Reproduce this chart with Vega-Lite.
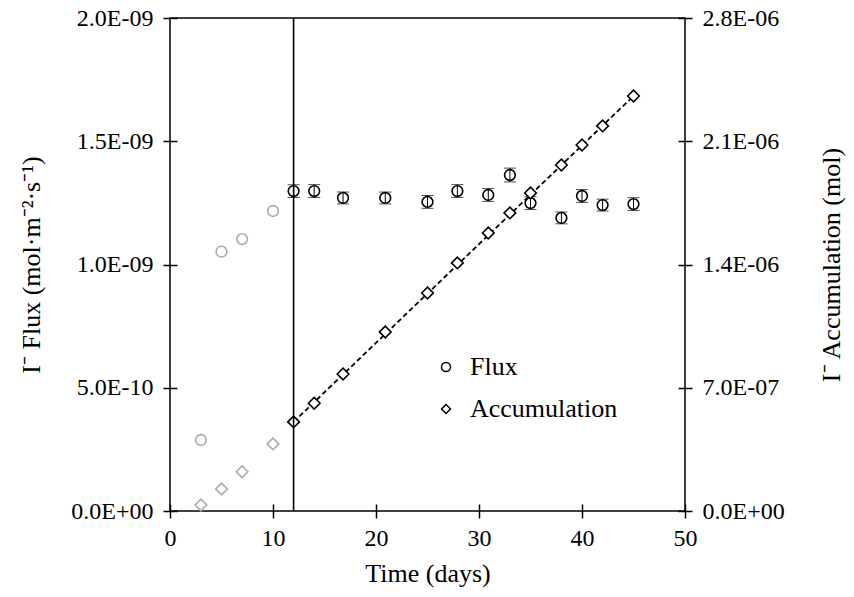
{
  "$schema": "https://vega.github.io/schema/vega-lite/v6.json",
  "width": 515,
  "height": 493,
  "autosize": {"type": "none"},
  "padding": {"left": 170, "top": 18, "right": 169, "bottom": 86},
  "background": "white",
  "config": {
    "view": {"stroke": "black", "strokeWidth": 1.5},
    "font": "Liberation Serif",
    "axis": {
      "labelFont": "Liberation Serif",
      "titleFont": "Liberation Serif",
      "labelFontSize": 24,
      "titleFontSize": 26,
      "titleFontWeight": "normal",
      "labelColor": "black",
      "titleColor": "black",
      "domain": false,
      "tickColor": "black",
      "tickWidth": 1.5,
      "tickSize": 14,
      "offset": -7,
      "labelFlush": false,
      "labelOverlap": false,
      "grid": false
    },
    "legend": {
      "labelFont": "Liberation Serif",
      "labelFontSize": 26,
      "labelColor": "black",
      "symbolStrokeColor": "black",
      "symbolStrokeWidth": 1.5,
      "symbolFillColor": "transparent",
      "symbolSize": 80,
      "labelOffset": 11,
      "rowPadding": 16
    }
  },
  "datasets": {
    "flux": [
      {"day": 3, "flux": 2.88e-10, "err": 0, "phase": "conditioning"},
      {"day": 5, "flux": 1.052e-9, "err": 0, "phase": "conditioning"},
      {"day": 7, "flux": 1.103e-9, "err": 0, "phase": "conditioning"},
      {"day": 10, "flux": 1.217e-9, "err": 0, "phase": "conditioning"},
      {"day": 12, "flux": 1.298e-9, "err": 2.6e-11, "phase": "steady"},
      {"day": 14, "flux": 1.298e-9, "err": 2.6e-11, "phase": "steady"},
      {"day": 16.8, "flux": 1.27e-9, "err": 2.4e-11, "phase": "steady"},
      {"day": 20.9, "flux": 1.27e-9, "err": 2.4e-11, "phase": "steady"},
      {"day": 25, "flux": 1.254e-9, "err": 2.6e-11, "phase": "steady"},
      {"day": 27.9, "flux": 1.298e-9, "err": 2.6e-11, "phase": "steady"},
      {"day": 30.9, "flux": 1.282e-9, "err": 2.6e-11, "phase": "steady"},
      {"day": 33, "flux": 1.363e-9, "err": 2.8e-11, "phase": "steady"},
      {"day": 35, "flux": 1.249e-9, "err": 2.6e-11, "phase": "steady"},
      {"day": 38, "flux": 1.189e-9, "err": 2.4e-11, "phase": "steady"},
      {"day": 40, "flux": 1.278e-9, "err": 2.6e-11, "phase": "steady"},
      {"day": 42, "flux": 1.241e-9, "err": 2.4e-11, "phase": "steady"},
      {"day": 45, "flux": 1.245e-9, "err": 2.6e-11, "phase": "steady"}
    ],
    "accumulation": [
      {"day": 3, "acc": 3.4e-8, "phase": "conditioning"},
      {"day": 5, "acc": 1.25e-7, "phase": "conditioning"},
      {"day": 7, "acc": 2.23e-7, "phase": "conditioning"},
      {"day": 10, "acc": 3.81e-7, "phase": "conditioning"},
      {"day": 12, "acc": 5.06e-7, "phase": "steady"},
      {"day": 14, "acc": 6.12e-7, "phase": "steady"},
      {"day": 16.8, "acc": 7.78e-7, "phase": "steady"},
      {"day": 20.9, "acc": 1.017e-6, "phase": "steady"},
      {"day": 25, "acc": 1.238e-6, "phase": "steady"},
      {"day": 27.9, "acc": 1.409e-6, "phase": "steady"},
      {"day": 30.9, "acc": 1.579e-6, "phase": "steady"},
      {"day": 33, "acc": 1.693e-6, "phase": "steady"},
      {"day": 35, "acc": 1.806e-6, "phase": "steady"},
      {"day": 38, "acc": 1.965e-6, "phase": "steady"},
      {"day": 40, "acc": 2.079e-6, "phase": "steady"},
      {"day": 42, "acc": 2.187e-6, "phase": "steady"},
      {"day": 45, "acc": 2.357e-6, "phase": "steady"}
    ],
    "fit": [
      {"day": 12, "acc": 5.06e-7},
      {"day": 45, "acc": 2.357e-6}
    ],
    "start": [{"day": 12}]
  },
  "layer": [
    {
      "layer": [
        {
          "data": {"name": "flux"},
          "transform": [{"filter": "datum.phase === 'steady'"}],
          "mark": {"type": "errorbar", "ticks": {"size": 12, "color": "black", "strokeWidth": 1.5}, "color": "black", "strokeWidth": 1.5},
          "encoding": {
            "x": {"field": "day", "type": "quantitative"},
            "y": {"field": "flux", "type": "quantitative"},
            "yError": {"field": "err"}
          }
        },
        {
          "data": {"name": "flux"},
          "transform": [{"calculate": "'Flux'", "as": "series"}],
          "mark": {"type": "point", "filled": false, "size": 115, "strokeWidth": 1.6, "opacity": 1},
          "encoding": {
            "x": {"field": "day", "type": "quantitative"},
            "y": {"field": "flux", "type": "quantitative"},
            "shape": {
              "field": "series", "type": "nominal",
              "scale": {"domain": ["Flux", "Accumulation"], "range": ["circle", "diamond"]},
              "legend": {"orient": "none", "legendX": 263, "legendY": 336, "title": null}
            },
            "stroke": {"field": "phase", "type": "nominal", "scale": {"domain": ["conditioning", "steady"], "range": ["#aaaaaa", "black"]}, "legend": null}
          }
        }
      ],
      "encoding": {
        "x": {
          "field": "day", "type": "quantitative",
          "scale": {"domain": [0, 50], "nice": false},
          "axis": {"title": "Time (days)", "values": [0, 10, 20, 30, 40, 50], "labelPadding": 8, "titlePadding": 10}
        },
        "y": {
          "field": "flux", "type": "quantitative",
          "scale": {"domain": [0, 2e-9], "nice": false},
          "axis": {
            "orient": "left",
            "title": "I⁻ Flux (mol·m⁻²·s⁻¹)",
            "values": [0, 5e-10, 1e-9, 1.5e-9, 2e-9],
            "labelExpr": "datum.value === 0 ? '0.0E+00' : format(datum.value * pow(10, -floor(log(datum.value) / LN10 + 1e-6)), '.1f') + 'E-' + (-floor(log(datum.value) / LN10 + 1e-6) < 10 ? '0' : '') + (-floor(log(datum.value) / LN10 + 1e-6))",
            "labelPadding": 10,
            "titlePadding": 26
          }
        }
      }
    },
    {
      "layer": [
        {
          "data": {"name": "fit"},
          "mark": {"type": "line", "color": "black", "strokeWidth": 1.8, "strokeDash": [5, 3]},
          "encoding": {
            "x": {"field": "day", "type": "quantitative"},
            "y": {"field": "acc", "type": "quantitative"}
          }
        },
        {
          "data": {"name": "accumulation"},
          "transform": [{"calculate": "'Accumulation'", "as": "series"}],
          "mark": {"type": "point", "filled": false, "size": 135, "strokeWidth": 1.6, "opacity": 1, "fill": "white", "fillOpacity": 1},
          "encoding": {
            "x": {"field": "day", "type": "quantitative"},
            "y": {"field": "acc", "type": "quantitative"},
            "shape": {"field": "series", "type": "nominal"},
            "stroke": {"field": "phase", "type": "nominal", "legend": null}
          }
        }
      ],
      "encoding": {
        "y": {
          "field": "acc", "type": "quantitative",
          "scale": {"domain": [0, 2.8e-6], "nice": false},
          "axis": {
            "orient": "right",
            "title": "I⁻ Accumulation (mol)",
            "titleAngle": 270,
            "values": [0, 7e-7, 1.4e-6, 2.1e-6, 2.8e-6],
            "labelExpr": "datum.value === 0 ? '0.0E+00' : format(datum.value * pow(10, -floor(log(datum.value) / LN10 + 1e-6)), '.1f') + 'E-' + (-floor(log(datum.value) / LN10 + 1e-6) < 10 ? '0' : '') + (-floor(log(datum.value) / LN10 + 1e-6))",
            "labelPadding": 10,
            "titlePadding": 60
          }
        }
      }
    },
    {
      "data": {"name": "start"},
      "mark": {"type": "rule", "color": "black", "strokeWidth": 1.6},
      "encoding": {
        "x": {"field": "day", "type": "quantitative"}
      }
    }
  ],
  "resolve": {"scale": {"y": "independent", "shape": "shared", "stroke": "shared"}}
}
